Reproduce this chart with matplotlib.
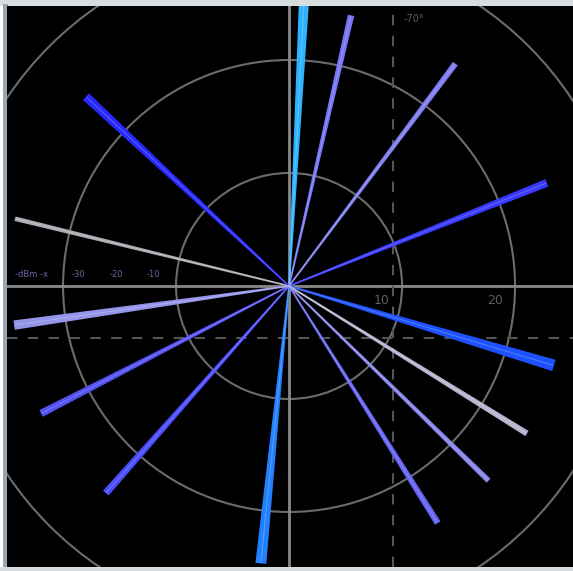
import numpy as np
import matplotlib
matplotlib.use("Agg")
import matplotlib.pyplot as plt
from matplotlib.patches import Wedge, Circle, Rectangle

# spokes: direction (deg, counter-clockwise from east), length, end width (deg), colour
angles = [87.0, 77.1, 53.2, 21.8, -16.7, -31.8, -44.3, -57.9, 264.2, 228.5, 207.2, 188.1, 166.2, 137.0]
lengths = [25.8, 24.5, 24.5, 24.5, 24.4, 24.7, 24.6, 24.7, 24.6, 24.4, 24.6, 24.5, 24.9, 24.5]
widths = [1.7, 1.0, 0.9, 1.3, 2.1, 0.9, 0.8, 1.0, 1.9, 1.2, 1.2, 1.6, 0.6, 1.5]
colors = ["#2eb2ff", "#7474f4", "#7c7cee", "#3838ff", "#1c52ff", "#b4b4cc", "#8484ea",
          "#6464f2", "#2280ff", "#4c4cff", "#5252f4", "#9494ea", "#a8a8b0", "#2828ff"]

rings = [10, 20, 30]
ring_labels = ["10", "20"]

fig = plt.figure(figsize=(5.73, 5.71), dpi=100)
fig.patch.set_facecolor("white")

# window border
fig.patches.append(Rectangle((0.0, 565 / 571), 1.0, 6 / 571, transform=fig.transFigure,
                             facecolor="#d9dcdf", edgecolor="none", zorder=-1))
fig.patches.append(Rectangle((0.0, 0.0), 1.0, 4 / 571, transform=fig.transFigure,
                             facecolor="#d9dcdf", edgecolor="none", zorder=-1))
fig.patches.append(Rectangle((3 / 573, 4 / 571), 5 / 573, 563 / 571, transform=fig.transFigure,
                             facecolor="#9aa5ae", edgecolor="none", zorder=-1))

ax = fig.add_axes([7 / 573, 4 / 571, 566 / 573, 561 / 571])
ax.set_zorder(1)
ax.set_facecolor("black")
ax.set_xlim(-24.96, 25.13)
ax.set_ylim(-24.87, 24.78)
ax.set_xticks([])
ax.set_yticks([])
for s in ax.spines.values():
    s.set_visible(False)

# range rings
for r in rings:
    ax.add_patch(Circle((0, 0), r, fill=False, edgecolor="#6c6c6c", lw=1.5, zorder=1))

# cross hair and offset marker lines
ax.axhline(0, color="#888888", lw=2.0, zorder=1)
ax.axvline(0, color="#888888", lw=2.0, zorder=1)
ax.axvline(9.2, color="#555555", lw=1.5, ls=(0, (5, 5)), zorder=1)
ax.axhline(-4.6, color="#555555", lw=1.5, ls=(0, (5, 5)), zorder=1)

for r, lab in zip(rings, ring_labels):
    ax.text(r - 1.8, -1.3, lab, color="#5e5e5e", fontsize=9, ha="center", va="center", zorder=2)
ax.text(11.0, 23.6, "-70°", color="#5e5e5e", fontsize=7, ha="center", va="center", zorder=2)

# faint scale labels on the left
for x, lab in zip([-22.8, -18.6, -15.3, -12.0], ["-dBm -x", "-30", "-20", "-10"]):
    ax.text(x, 1.0, lab, color="#8080d0", fontsize=6, ha="center", va="center", alpha=0.8, zorder=2)

# spokes
for a, L, w, c in zip(angles, lengths, widths, colors):
    ax.add_patch(Wedge((0, 0), L, a - w / 2, a + w / 2, facecolor=c, edgecolor=c,
                       lw=1.2, zorder=3))
    t = np.deg2rad(a)
    ax.plot([0, L * np.cos(t)], [0, L * np.sin(t)], color="white", lw=0.8,
            alpha=0.22, zorder=4, solid_capstyle="butt")

fig.savefig("out.png", dpi=100, facecolor=fig.get_facecolor())
